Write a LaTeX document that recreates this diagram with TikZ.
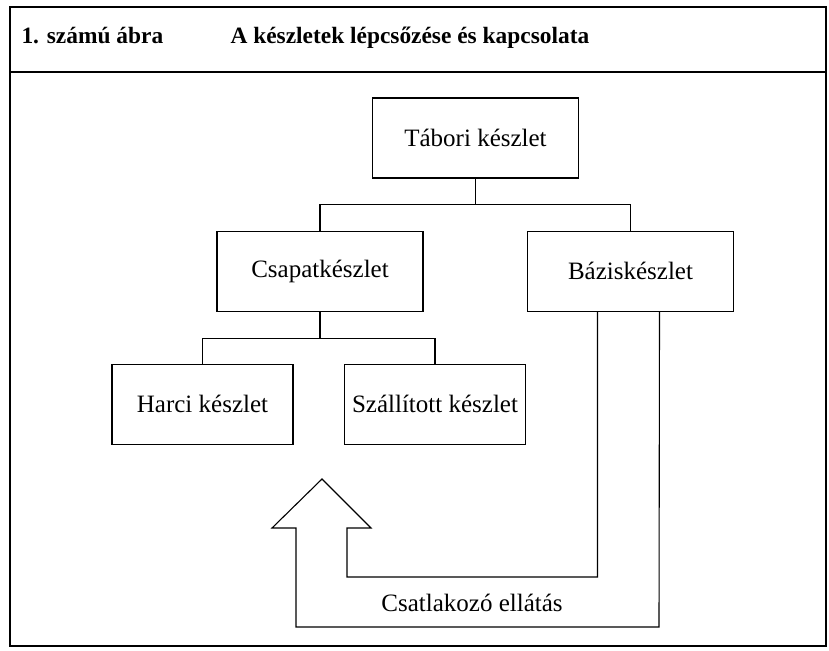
\documentclass[tikz,border=0pt]{standalone}
\usepackage{fontspec}
\setmainfont{Liberation Serif}
\usepackage{tikz}
\usetikzlibrary{positioning,calc}

\begin{document}
\begin{tikzpicture}[
    x=1pt, y=-1pt,
    node distance=52pt,
    box/.style={rectangle, draw, line width=1.1pt, minimum width=206pt, minimum height=80pt, text centered, font=\fontsize{25}{30}\selectfont},
    smallbox/.style={box, minimum width=181pt},
    link/.style={line width=1.1pt},
    header/.style={anchor=base west, font=\bfseries\fontsize{23.4}{28}\selectfont}
]
    \useasboundingbox (0,0) rectangle (829,650);
    \draw[line width=1.6pt] (10,7) rectangle (826,646);
    \draw[line width=1.6pt] (10,72) -- (826,72);
    \node[header] (abra) at (18,44) {1. számú ábra};
    \node[header] (cim) at (227,44) {A készletek lépcsőzése és kapcsolata};

    \node[box] (tabori) at (475.5,138) {Tábori készlet};
    \node[box, below=of tabori, xshift=-155.5pt] (csapat) {Csapatkészlet};
    \node[box, below=of tabori, xshift=155pt] (bazis) {Báziskészlet};
    \node[smallbox, below=of csapat, xshift=-117.5pt] (harci) {Harci készlet};
    \node[smallbox, below=of csapat, xshift=115pt] (szallitott) {Szállított készlet};

    \draw[link] (tabori.south) -- ++(0,26) coordinate (elag1) -| (csapat.north);
    \draw[link] (elag1) -| (bazis.north);
    \draw[link] (csapat.south) -- ++(0,27) coordinate (elag2) -| (harci.north);
    \draw[link] (elag2) -| (szallitott.north);

    % csatlakozo ellatas
    \coordinate (tip) at (322,479);
    \draw[link, line join=miter] ([xshift=-33pt]bazis.south) |- (347,577) -- (347,528) -- (371,528)
        -- (tip) -- (272,528) -- (296,528) |- (659,627) -- ([xshift=29pt]bazis.south);
    \node[font=\fontsize{25}{30}\selectfont] (ellatas) at (472,603) {Csatlakozó ellátás};
\end{tikzpicture}
\end{document}
